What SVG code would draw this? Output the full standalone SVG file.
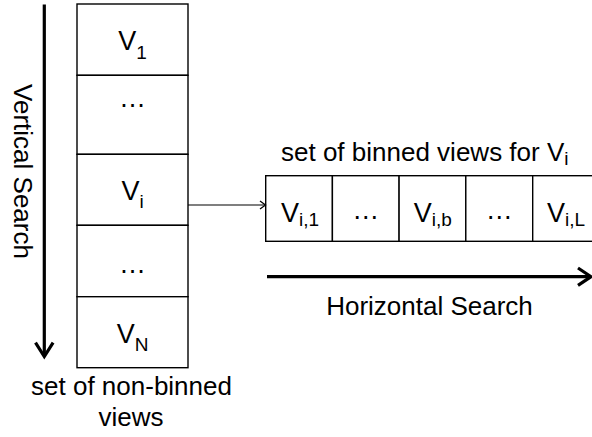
<svg xmlns="http://www.w3.org/2000/svg" width="592" height="437" viewBox="0 0 592 437">
  <style>
    .cell { fill: #ffffff; stroke: #000000; stroke-width: 1.4; }
    .t { font-family: "Liberation Sans", Arial, sans-serif; fill: #000000; }
    .v { font-size: 27px; }
    .sub { font-size: 19px; }
    .lbl { font-size: 26px; }
    .thick { stroke: #000000; stroke-width: 3.2; fill: none; }
    .thin { stroke: #000000; stroke-width: 1.2; fill: none; }
  </style>
  <defs>
    <marker id="head-small" markerWidth="8" markerHeight="10" refX="6.5" refY="5" orient="auto" markerUnits="userSpaceOnUse">
      <path d="M1,1 L6.5,5 L1,9" fill="none" stroke="#000" stroke-width="1.3"/>
    </marker>
  </defs>

  <rect width="592" height="437" fill="#ffffff"/>

  <!-- Vertical column: set of non-binned views -->
  <g id="v1">
    <rect class="cell" x="77" y="4" width="111" height="71.3"/>
    <text class="t v" x="132.5" y="50" text-anchor="middle">V<tspan class="sub" dy="9.3">1</tspan></text>
  </g>
  <g id="vdots1">
    <rect class="cell" x="77" y="75.3" width="111" height="79"/>
    <text class="t v" x="132.5" y="107" text-anchor="middle">…</text>
  </g>
  <g id="vi">
    <rect class="cell" x="77" y="154.3" width="111" height="71"/>
    <text class="t v" x="132.5" y="200" text-anchor="middle">V<tspan class="sub" dy="8.3">i</tspan></text>
  </g>
  <g id="vdots2">
    <rect class="cell" x="77" y="225.3" width="111" height="71.4"/>
    <text class="t v" x="132.5" y="272.5" text-anchor="middle">…</text>
  </g>
  <g id="vN">
    <rect class="cell" x="77" y="296.7" width="111" height="71"/>
    <text class="t v" x="132.5" y="343.3" text-anchor="middle">V<tspan class="sub" dy="7.4">N</tspan></text>
  </g>

  <!-- Horizontal row: set of binned views for Vi -->
  <g id="vi1">
    <rect class="cell" x="265.7" y="175.7" width="66.7" height="65.6"/>
    <text class="t v" x="300" y="221.7" text-anchor="middle">V<tspan class="sub" dy="4.5">i,1</tspan></text>
  </g>
  <g id="hdots1">
    <rect class="cell" x="332.4" y="175.7" width="66.7" height="65.6"/>
    <text class="t v" x="365.8" y="219" text-anchor="middle">…</text>
  </g>
  <g id="vib">
    <rect class="cell" x="399.1" y="175.7" width="66.7" height="65.6"/>
    <text class="t v" x="432.7" y="221.7" text-anchor="middle">V<tspan class="sub" dy="4.5">i,b</tspan></text>
  </g>
  <g id="hdots2">
    <rect class="cell" x="465.8" y="175.7" width="66.9" height="65.6"/>
    <text class="t v" x="499.3" y="219" text-anchor="middle">…</text>
  </g>
  <g id="viL">
    <rect class="cell" x="532.7" y="175.7" width="66.7" height="65.6"/>
    <text class="t v" x="566" y="221.7" text-anchor="middle">V<tspan class="sub" dy="4.5">i,L</tspan></text>
  </g>

  <!-- Connectors -->
  <g id="connectors">
    <line class="thin" x1="188" y1="205" x2="265.5" y2="205" marker-end="url(#head-small)"/>
    <!-- vertical search arrow -->
    <line class="thick" x1="44.3" y1="4.5" x2="44.3" y2="355.5"/>
    <path class="thick" d="M35.5,342.7 L44.3,356.5 L53.1,342.7"/>
    <!-- horizontal search arrow -->
    <line class="thick" x1="267" y1="276.7" x2="590" y2="276.7"/>
    <path class="thick" d="M578,268 L591,276.7 L578,285.4"/>
  </g>

  <!-- Labels -->
  <g id="labels">
    <text class="t lbl" transform="translate(13.5,171.5) rotate(90)" text-anchor="middle">Vertical Search</text>
    <text class="t lbl" x="281" y="161">set of binned views for V<tspan class="sub" dy="4">i</tspan></text>
    <text class="t lbl" x="429.5" y="315" text-anchor="middle">Horizontal Search</text>
    <text class="t lbl" x="131.5" y="395" text-anchor="middle">set of non-binned</text>
    <text class="t lbl" x="131" y="426" text-anchor="middle">views</text>
  </g>
</svg>
